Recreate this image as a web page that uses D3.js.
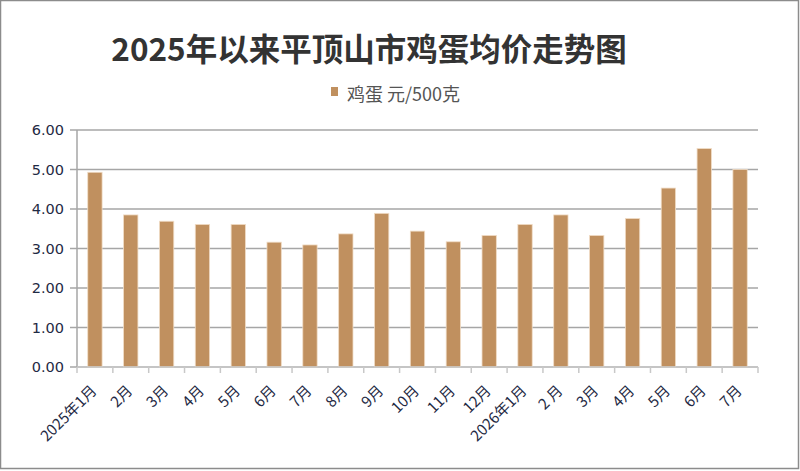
<!doctype html>
<html lang="zh">
<head>
<meta charset="utf-8">
<title>2025年以来平顶山市鸡蛋均价走势图</title>
<script src="https://cdn.jsdelivr.net/npm/d3@7"></script>
<style>
  body { margin: 0; background: #fff; }
  svg { display: block; font-family: "Noto Sans CJK SC", "Noto Sans", sans-serif; }
</style>
</head>
<body>
<svg id="chart"></svg>
<script>
// data
const months = ["2025年1月", "2月", "3月", "4月", "5月", "6月", "7月", "8月", "9月", "10月",
                "11月", "12月", "2026年1月", "2 月", "3月", "4月", "5月", "6月", "7月"];
const prices = [4.93, 3.85, 3.69, 3.61, 3.61, 3.16, 3.09, 3.37, 3.89, 3.44,
                3.17, 3.33, 3.61, 3.85, 3.33, 3.76, 4.53, 5.53, 5.00];
const yTicks = [0, 1, 2, 3, 4, 5, 6];
const seriesName = "鸡蛋 元/500克";
const title = "2025年以来平顶山市鸡蛋均价走势图";

const W = 800, H = 471;
const plotLeft = 77, plotRight = 758, plotTop = 130, plotBottom = 367;

const svg = d3.select("#chart").attr("width", W).attr("height", H);

// outer frame
svg.append("rect")
    .attr("x", 0.5).attr("y", 0.5)
    .attr("width", W - 2).attr("height", H - 3)
    .attr("fill", "#fff").attr("stroke", "#8c8c8c").attr("stroke-width", 1.5);

// months repeat across the two years, so the band scale works on indices
const idx = d3.range(months.length);
const x = d3.scaleBand().domain(idx).range([plotLeft, plotRight]).paddingInner(0.6).paddingOuter(0.3);
const xEdge = d3.scaleLinear().domain([0, months.length]).range([plotLeft, plotRight]);
const y = d3.scaleLinear().domain([0, 6]).range([plotBottom, plotTop]);

// gridlines
svg.append("g")
    .selectAll("line")
    .data(yTicks)
    .join("line")
    .attr("x1", plotLeft - 7).attr("x2", plotRight)
    .attr("y1", d => y(d)).attr("y2", d => y(d))
    .attr("stroke", "#a6a6a6").attr("stroke-width", 1.5);

// y axis line
svg.append("line")
    .attr("x1", plotLeft).attr("x2", plotLeft)
    .attr("y1", plotTop).attr("y2", plotBottom)
    .attr("stroke", "#a6a6a6").attr("stroke-width", 1.5);

// y labels
svg.append("g")
    .selectAll("text")
    .data(yTicks)
    .join("text")
    .attr("x", plotLeft - 13)
    .attr("y", d => y(d))
    .attr("dy", "0.36em")
    .attr("text-anchor", "end")
    .attr("font-size", 14.5)
    .attr("font-family", "'DejaVu Sans', sans-serif")
    .attr("fill", "#1f2a44")
    .text(d => d3.format(".2f")(d));

// bars
svg.append("g")
    .selectAll("rect")
    .data(prices)
    .join("rect")
    .attr("x", (d, i) => x(i))
    .attr("y", d => y(d))
    .attr("width", x.bandwidth())
    .attr("height", d => y(0) - y(d))
    .attr("fill", "#c0905f")
    .attr("stroke", "#f0dcc6")
    .attr("stroke-width", 0.8);

// x axis line + ticks
svg.append("line")
    .attr("x1", plotLeft).attr("x2", plotRight)
    .attr("y1", plotBottom).attr("y2", plotBottom)
    .attr("stroke", "#c8c8c8").attr("stroke-width", 1.5);
svg.append("g")
    .selectAll("line")
    .data(d3.range(months.length + 1))
    .join("line")
    .attr("x1", d => xEdge(d)).attr("x2", d => xEdge(d))
    .attr("y1", plotBottom).attr("y2", plotBottom + 6)
    .attr("stroke", "#c8c8c8").attr("stroke-width", 1.5);

// x labels, rotated
svg.append("g")
    .selectAll("text")
    .data(months)
    .join("text")
    .attr("transform", (d, i) => `translate(${x(i) + x.bandwidth() / 2 - 1},${plotBottom + 21}) rotate(-45)`)
    .attr("text-anchor", "end")
    .attr("dy", "0.35em")
    .attr("font-size", 15)
    .attr("fill", "#1f2a44")
    .text(d => d);

// title
svg.append("text")
    .attr("x", 369).attr("y", 61)
    .attr("text-anchor", "middle")
    .attr("font-size", 31.5)
    .attr("font-weight", "bold")
    .attr("fill", "#333")
    .text(title);

// legend
svg.append("rect")
    .attr("x", 331).attr("y", 87)
    .attr("width", 7).attr("height", 9)
    .attr("fill", "#c0905f");
svg.append("text")
    .attr("x", 347).attr("y", 101)
    .attr("font-size", 18)
    .attr("fill", "#555")
    .text(seriesName);
</script>
</body>
</html>
